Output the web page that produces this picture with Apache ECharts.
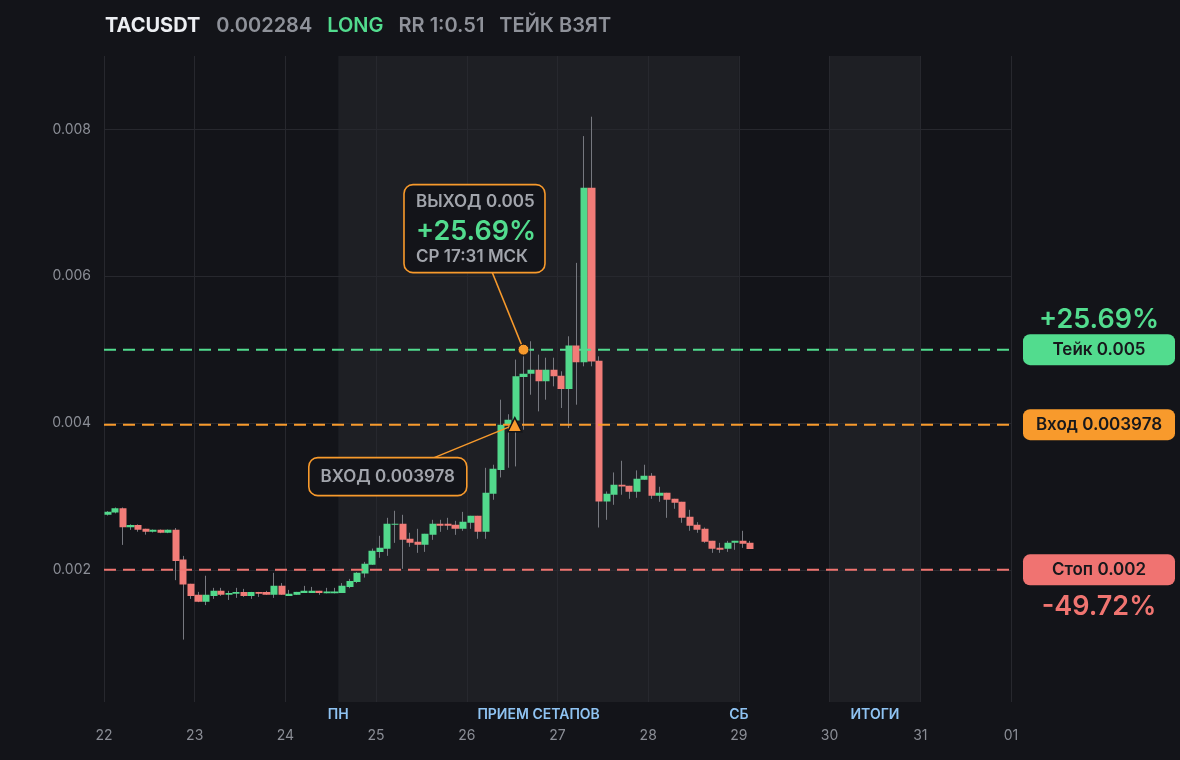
<!DOCTYPE html>
<html>
<head>
<meta charset="utf-8">
<script src="https://cdn.jsdelivr.net/npm/echarts/dist/echarts.min.js"></script>
<style>
html,body{margin:0;padding:0;background:#131419;}
#chart{width:1180px;height:760px;}
</style>
</head>
<body>
<div id="chart"></div>
<script>
// ---------- header ----------
const ticker = 'TACUSDT';
const lastPrice = '0.002284';
const direction = 'LONG';
const riskReward = 'RR 1:0.51';
const statusText = 'ТЕЙК ВЗЯТ';

// ---------- axes ----------
const dayLabels = ['22','23','24','25','26','27','28','29','30','31','01'];
const hoursPerDay = 24;
const candleHours = 2;            // 2h candles, first one opens at 22 00:00
const priceTicks = [0.002, 0.004, 0.006, 0.008];

// ---------- candles (2h) ----------
const opens = [
 0.00275,0.00278,0.00284,0.00258,0.00261,0.00256,0.00252,0.002545,0.002505,0.002545,
 0.00214,0.00181,0.00166,0.001565,0.001645,0.001715,0.00166,0.001673,0.0017,0.001645,
 0.0017,0.0017,0.00166,0.001782,0.001645,0.00166,0.001686,0.001686,0.001714,0.00168,
 0.00168,0.001686,0.001768,0.001836,0.00195,0.002068,0.002245,0.002286,0.002614,0.002627,
 0.002423,0.002382,0.002341,0.002477,0.002627,0.002627,0.002614,0.002559,0.002641,0.002736,
 0.002518,0.003036,0.00336,0.003977,0.004036,0.004627,0.004673,0.004727,0.004568,0.004727,
 0.004645,0.004464,0.005055,0.004827,0.007205,0.00485,0.002932,0.003023,0.003159,0.003145,
 0.003064,0.003227,0.003282,0.003009,0.00305,0.002968,0.002927,0.002723,0.002614,0.00256,
 0.002395,0.0023,0.002286,0.002368,0.002395,0.002368
];
const closes = [
 0.00279,0.00284,0.00258,0.00261,0.002545,0.00252,0.002545,0.002505,0.002545,0.00212,
 0.0018,0.001645,0.001565,0.00166,0.001715,0.00166,0.001686,0.0017,0.001645,0.0017,
 0.001673,0.00166,0.001782,0.00166,0.001673,0.0017,0.001714,0.001714,0.001686,0.001705,
 0.001705,0.001782,0.00185,0.001959,0.002082,0.002259,0.0023,0.002627,0.002627,0.002409,
 0.002368,0.002341,0.002491,0.002627,0.0026,0.0026,0.002559,0.002655,0.002736,0.002518,
 0.00305,0.003377,0.003977,0.004045,0.004636,0.004673,0.004727,0.004568,0.004727,0.004636,
 0.004464,0.005055,0.004827,0.007205,0.00484,0.002932,0.003036,0.003159,0.003136,0.003064,
 0.003241,0.003282,0.003009,0.00305,0.002955,0.002914,0.002709,0.0026,0.002545,0.002382,
 0.002286,0.002273,0.002368,0.002395,0.002355,0.002284
];
const lows = [
 0.00274,0.00277,0.00234,0.002545,0.00252,0.00248,0.00251,0.0025,0.0025,0.00186,
 0.00105,0.001605,0.00156,0.00152,0.001605,0.001645,0.00159,0.001618,0.001632,0.001605,
 0.001632,0.00166,0.001618,0.00166,0.001645,0.00166,0.001686,0.001686,0.00166,0.00168,
 0.00168,0.001686,0.00175,0.00182,0.001895,0.002068,0.002164,0.002191,0.002368,0.002014,
 0.002314,0.002232,0.002245,0.002409,0.002518,0.002545,0.002477,0.002532,0.002559,0.002423,
 0.002423,0.002955,0.003259,0.003391,0.003409,0.003909,0.004386,0.004159,0.004318,0.0045,
 0.004205,0.003932,0.00425,0.004773,0.004773,0.002577,0.002682,0.002886,0.003023,0.002968,
 0.002982,0.003227,0.002968,0.002927,0.002709,0.002832,0.002641,0.002532,0.002505,0.002368,
 0.002232,0.002232,0.002245,0.002273,0.0023,0.002284
];
const highs = [
 0.0028,0.00285,0.00285,0.00262,0.00262,0.00256,0.00255,0.00255,0.00255,0.00257,
 0.00219,0.00181,0.0017,0.00192,0.001755,0.001755,0.001714,0.001755,0.001741,0.0017,
 0.0017,0.001714,0.001959,0.00182,0.001727,0.0017,0.001782,0.001768,0.001714,0.001755,
 0.001755,0.00182,0.001877,0.00197,0.002109,0.00229,0.002464,0.002709,0.002805,0.00275,
 0.002505,0.002559,0.002491,0.002682,0.002682,0.002709,0.002668,0.00279,0.002736,0.002736,
 0.00339,0.003432,0.004318,0.00412,0.004864,0.004909,0.005114,0.004932,0.00489,0.00489,
 0.004705,0.005182,0.006182,0.007909,0.008173,0.004909,0.003068,0.003327,0.003486,0.003145,
 0.003355,0.003432,0.003318,0.003132,0.00305,0.002968,0.002927,0.002818,0.00265,0.002577,
 0.002395,0.002368,0.002395,0.002395,0.002532,0.002395
];

// ---------- trade levels ----------
const takeLevel = 0.005;
const entryLevel = 0.003978;
const stopLevel = 0.002;
const takePct = '+25.69%';
const stopPct = '-49.72%';
const entryHour = 108.7;    // 26, ~12:42 UTC
const exitHour = 111;       // 26, 2h candle 14:00-16:00 UTC (СР 17:31 МСК)
const exitTimeText = 'СР 17:31 МСК';

// ---------- session bands (hours from 22 00:00) ----------
const bands = [
  {from: 62, to: 168, label: 'ПРИЕМ СЕТАПОВ'},
  {from: 192, to: 216, label: 'ИТОГИ'}
];
const bandEdgeLabels = [
  {at: 62, label: 'ПН'},
  {at: 168, label: 'СБ'}
];

// ---------- colours ----------
const C = {
  bg: '#131419', shade: '#1e1f24', grid: '#27282e', axisText: '#8b8e96',
  headGray: '#8f929a', headWhite: '#eceef2',
  up: '#52d98c', down: '#f27c78', wick: '#76787f',
  green: '#52dc8e', orange: '#f89a2c', red: '#f07470', pillRed: '#f07371',
  boxText: '#a2a5ac', pillText: '#17181c', blue: '#8fc3f2'
};
const FONT = 'Inter, "Noto Sans", sans-serif';

const xMax = (dayLabels.length - 1) * hoursPerDay;
const candleData = opens.map((o, i) => [i * candleHours + candleHours / 2, o, closes[i], lows[i], highs[i]]);

const yColors = [];
for (let i = 0; i < 10; i++) yColors.push(i === 9 ? C.grid : 'rgba(0,0,0,0)');

const isMajor = v => priceTicks.some(t => Math.abs(v - t) < 1e-9);

function levelSeries(name, level, color) {
  return {
    name: name, type: 'line', z: 5, silent: true, showSymbol: false, symbol: 'none',
    data: [[0, level], [xMax, level]],
    lineStyle: {color: color, width: 2, type: [12, 7]}
  };
}

const chart = echarts.init(document.getElementById('chart'), null, {renderer: 'canvas'});

const option = {
  backgroundColor: C.bg,
  animation: false,
  textStyle: {fontFamily: FONT},
  title: {
    left: 105, top: 16, padding: 0,
    text: `{w|${ticker}}{g|${lastPrice}}{l|${direction}}{g|${riskReward}}{s|${statusText}}`,
    textStyle: {
      rich: {
        w: {color: C.headWhite, fontSize: 20, fontWeight: 700, fontFamily: FONT, padding: [0, 16, 0, 0]},
        g: {color: C.headGray, fontSize: 20, fontWeight: 600, fontFamily: FONT, padding: [0, 15, 0, 0]},
        l: {color: C.green, fontSize: 20, fontWeight: 600, fontFamily: FONT, padding: [0, 15, 0, 0]},
        s: {color: C.headGray, fontSize: 20, fontWeight: 600, fontFamily: FONT}
      }
    }
  },
  grid: {left: 104, right: 169, top: 56, bottom: 58, containLabel: false, outerBoundsMode: 'none'},
  xAxis: {
    type: 'value', min: 0, max: xMax, interval: hoursPerDay, z: 0,
    axisLine: {show: false}, axisTick: {show: false},
    splitLine: {show: true, lineStyle: {color: C.grid, width: 1}},
    axisLabel: {
      color: C.axisText, fontSize: 14, fontFamily: FONT, margin: 27,
      formatter: v => dayLabels[Math.round(v / hoursPerDay)] || ''
    }
  },
  yAxis: {
    type: 'value', min: 0.0002, max: 0.009, interval: 0.0002, z: 0,
    axisLine: {show: false}, axisTick: {show: false},
    splitLine: {show: true, lineStyle: {color: yColors, width: 1}},
    axisLabel: {
      color: C.axisText, fontSize: 14, fontFamily: FONT, margin: 13,
      formatter: v => isMajor(v) ? v.toFixed(3) : ''
    }
  },
  series: [
    {
      name: 'bands', type: 'line', data: [], z: 0, silent: true,
      markArea: {
        z: -1, silent: true,
        itemStyle: {color: C.shade, borderWidth: 0},
        label: {show: true, position: 'bottom', distance: 6, color: C.blue, fontSize: 14, fontWeight: 600, fontFamily: FONT},
        data: bands.map(b => [{xAxis: b.from, name: b.label}, {xAxis: b.to}]).concat(
          bandEdgeLabels.map(e => [{xAxis: e.at, name: e.label, itemStyle: {color: 'rgba(0,0,0,0)'}}, {xAxis: e.at}])
        )
      }
    },
    {
      name: 'wicks', type: 'candlestick', data: candleData, z: 2, silent: true,
      encode: {x: 0, y: [1, 2, 3, 4]},
      barWidth: 1,
      itemStyle: {color: C.wick, color0: C.wick, borderColor: C.wick, borderColor0: C.wick, borderColorDoji: C.wick, borderWidth: 1}
    },
    {
      name: 'bodies', type: 'candlestick', data: candleData, z: 3, silent: true,
      encode: {x: 0, y: [1, 2, 3, 4]},
      barWidth: 7.6,
      itemStyle: {color: C.up, color0: C.down, borderColor: C.up, borderColor0: C.down, borderColorDoji: C.up, borderWidth: 0}
    },
    levelSeries('take', takeLevel, C.green),
    levelSeries('entryLine', entryLevel, C.orange),
    levelSeries('stop', stopLevel, C.red),
    {
      name: 'entry', type: 'scatter', z: 8, silent: true,
      data: [[entryHour, entryLevel]], symbol: 'triangle', symbolSize: 14,
      itemStyle: {color: C.orange, borderColor: C.bg, borderWidth: 1.5, opacity: 1}
    },
    {
      name: 'exit', type: 'scatter', z: 8, silent: true,
      data: [[exitHour, takeLevel]], symbol: 'circle', symbolSize: 11,
      itemStyle: {color: C.orange, borderColor: C.bg, borderWidth: 1, opacity: 1}
    }
  ]
};

chart.setOption(option);

// ---------- annotations placed from the chart's own scales ----------
const P = (x, y) => chart.convertToPixel({gridIndex: 0}, [x, y]);
const xRight = P(xMax, takeLevel)[0];
const takeY = P(0, takeLevel)[1];
const entryY = P(0, entryLevel)[1];
const stopY = P(0, stopLevel)[1];
const entryPt = P(entryHour, entryLevel);
const exitPt = P(exitHour, takeLevel);

function txt(x, y, text, fill, font, align, z) {
  return {type: 'text', x: x, y: y, z: z || 62, silent: true,
    style: {text: text, fill: fill, font: font, align: align || 'left', verticalAlign: 'middle',
            textAlign: align || 'left', textVerticalAlign: 'middle'}};
}
function rect(cx, cy, w, h, r, fill, stroke, z) {
  return {type: 'rect', z: z || 60, silent: true,
    shape: {x: cx - w / 2, y: cy - h / 2, width: w, height: h, r: r},
    style: {fill: fill, stroke: stroke || null, lineWidth: stroke ? 1.6 : 0}};
}

// exit callout
const exitBox = {cx: exitPt[0] - 49, cy: exitPt[1] - 121, w: 141, h: 88};
const exitLeft = exitBox.cx - exitBox.w / 2 + 12;
// entry callout
const entryBox = {cx: entryPt[0] - 127, cy: entryPt[1] + 52, w: 158, h: 38};

const pillX = xRight + 12 + 76;
const graphics = [
  {type: 'line', z: 6, silent: true, shape: {x1: exitBox.cx, y1: exitBox.cy, x2: exitPt[0], y2: exitPt[1]}, style: {stroke: C.orange, lineWidth: 1.5}},
  {type: 'line', z: 6, silent: true, shape: {x1: entryBox.cx, y1: entryBox.cy, x2: entryPt[0], y2: entryPt[1]}, style: {stroke: C.orange, lineWidth: 1.5}},
  rect(exitBox.cx, exitBox.cy, exitBox.w, exitBox.h, 9, C.bg, C.orange),
  txt(exitLeft, exitBox.cy - 27, 'ВЫХОД ' + takeLevel, C.boxText, '600 17px ' + FONT),
  txt(exitLeft, exitBox.cy + 3, takePct, C.green, '600 27px ' + FONT),
  txt(exitLeft, exitBox.cy + 28, exitTimeText, C.boxText, '600 17px ' + FONT),
  rect(entryBox.cx, entryBox.cy, entryBox.w, entryBox.h, 9, C.bg, C.orange),
  txt(entryBox.cx, entryBox.cy, 'ВХОД ' + entryLevel, C.boxText, '600 17px ' + FONT, 'center'),

  // right side level tags
  txt(pillX, takeY - 30, takePct, C.green, '600 27px ' + FONT, 'center'),
  rect(pillX, takeY, 152, 31, 7, C.green),
  txt(pillX, takeY, 'Тейк ' + takeLevel, C.pillText, '600 17px ' + FONT, 'center'),
  rect(pillX, entryY, 152, 31, 7, C.orange),
  txt(pillX, entryY, 'Вход ' + entryLevel, C.pillText, '600 17px ' + FONT, 'center'),
  rect(pillX, stopY, 152, 31, 7, C.pillRed),
  txt(pillX, stopY, 'Стоп ' + stopLevel, C.pillText, '600 17px ' + FONT, 'center'),
  txt(pillX, stopY + 37, stopPct, C.red, '600 27px ' + FONT, 'center')
];

chart.setOption({graphic: {elements: graphics}});
</script>
</body>
</html>
